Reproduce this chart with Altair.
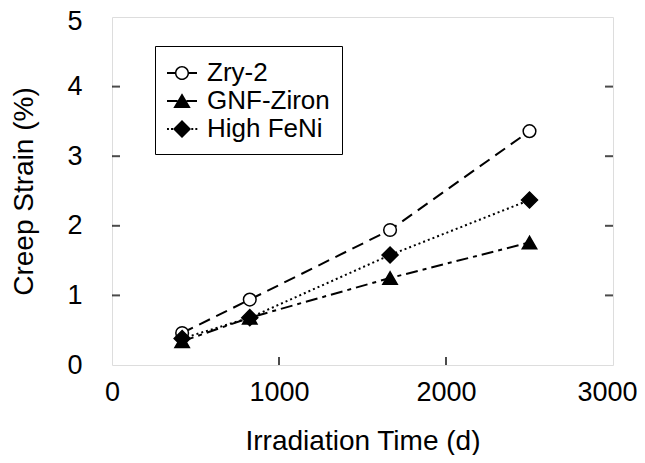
import altair as alt
import pandas as pd

series_names = ["Zry-2", "GNF-Ziron", "High FeNi"]
time_d = [420, 825, 1665, 2500]
zry2 = [0.46, 0.94, 1.94, 3.36]
gnf_ziron = [0.34, 0.68, 1.25, 1.76]
high_feni = [0.38, 0.68, 1.58, 2.37]

x_tick_values = [0, 1000, 2000, 3000]
y_tick_values = [0, 1, 2, 3, 4, 5]
x_inner_ticks = [1000, 2000]
y_inner_ticks = [1, 2, 3, 4]

rows = []
for name, vals in zip(series_names, [zry2, gnf_ziron, high_feni]):
    for t, v in zip(time_d, vals):
        rows.append({"series": name, "key": name, "time": t, "strain": v})
df = pd.DataFrame(rows)

FONT = "Liberation Sans"
W, H = 501, 348

xscale = alt.Scale(domain=[0, 3000], nice=False, zero=False)
yscale = alt.Scale(domain=[0, 5], nice=False, zero=False)

x_axis = alt.Axis(values=x_tick_values, format="d", ticks=False, domain=False, grid=False,
                  labelFontSize=27, labelFont=FONT, labelColor="black", labelPadding=14,
                  labelOffset={"condition": {"test": "datum.value == 3000", "value": -6}, "value": 0},
                  title="Irradiation Time (d)", titleFontSize=28, titleFont=FONT,
                  titleFontWeight="normal", titleColor="black",
                  titleX=W / 2, titleY=84, titleBaseline="alphabetic", labelFlush=False)
y_axis = alt.Axis(values=y_tick_values, format="d", ticks=False, domain=False, grid=False,
                  labelFontSize=27, labelFont=FONT, labelColor="black", labelPadding=30,
                  labelOffset={"condition": {"test": "datum.value == 5", "value": 4}, "value": 0},
                  title="Creep Strain (%)", titleFontSize=28, titleFont=FONT,
                  titleFontWeight="normal", titleColor="black",
                  titleX=-80, titleY=H / 2, titleBaseline="alphabetic", labelFlush=False)

dash_range = [[12, 7], [12, 5, 4, 5], [2, 3]]
shape_range = ["circle", "triangle-up", "diamond"]
fill_range = ["white", "black", "black"]

base = alt.Chart(df)

lines = base.mark_line(color="black", strokeWidth=2).encode(
    x=alt.X("time:Q", scale=xscale, axis=x_axis),
    y=alt.Y("strain:Q", scale=yscale, axis=y_axis),
    strokeDash=alt.StrokeDash("series:N", scale=alt.Scale(domain=series_names, range=dash_range), legend=None),
    detail="series:N",
)

points = base.mark_point(filled=True, stroke="black", strokeWidth=1.5, opacity=1).encode(
    x=alt.X("time:Q", scale=xscale),
    y=alt.Y("strain:Q", scale=yscale),
    shape=alt.Shape("series:N", scale=alt.Scale(domain=series_names, range=shape_range), legend=None),
    fill=alt.Fill("series:N", scale=alt.Scale(domain=series_names, range=fill_range), legend=None),
    size=alt.Size("series:N", scale=alt.Scale(domain=series_names, range=[160, 256, 256]), legend=None),
)


# legend-only symbols (all filled geometry): line segment + marker, unit = 15 px
def seg(a, b, h=0.06):
    return "M%.3f,%.3fH%.3fV%.3fH%.3fZ" % (a, -h, b, h, a)


p_circle = (seg(-1, -0.44) + seg(0.44, 1)
            + "M-0.47,0A0.47,0.47,0,1,1,0.47,0A0.47,0.47,0,1,1,-0.47,0Z"
            + "M-0.37,0A0.37,0.37,0,1,0,0.37,0A0.37,0.37,0,1,0,-0.37,0Z")
p_tri = seg(-1, -0.3) + seg(0.3, 1) + "M0,-0.52L0.58,0.47L-0.58,0.47Z"
dots = "".join(seg(-1 + i * 0.27, -1 + i * 0.27 + 0.13) for i in range(2)) + \
       "".join(seg(0.62 + i * 0.27, 0.62 + i * 0.27 + 0.13) for i in range(2))
p_dia = dots + "M0,-0.6L0.6,0L0,0.6L-0.6,0Z"

legend = alt.Legend(
    orient="none", legendX=43, legendY=29, padding=12,
    strokeColor="black", fillColor="white", labelFont=FONT, labelFontSize=26,
    labelColor="black", labelOffset=10, rowPadding=0, symbolSize=900,
    symbolStrokeWidth=0, symbolFillColor="black",
)

legend_layer = base.transform_filter("false").mark_point(
    filled=True, fill="black", size=900, opacity=1
).encode(
    x=alt.X("time:Q", scale=xscale),
    y=alt.Y("strain:Q", scale=yscale),
    shape=alt.Shape("key:N", title="", scale=alt.Scale(domain=series_names, range=[p_circle, p_tri, p_dia]), legend=legend),
)

ytick_df = pd.DataFrame({"y": y_inner_ticks})
xtick_df = pd.DataFrame({"x": x_inner_ticks})

left_ticks = alt.Chart(ytick_df).mark_point(shape="M0,0H1", size=256, filled=False, stroke="black", strokeWidth=2).encode(
    x=alt.datum(0, scale=xscale), y=alt.Y("y:Q", scale=yscale))
right_ticks = alt.Chart(ytick_df).mark_point(shape="M0,0H-1", size=256, filled=False, stroke="black", strokeWidth=2).encode(
    x=alt.datum(3000, scale=xscale), y=alt.Y("y:Q", scale=yscale))
bottom_ticks = alt.Chart(xtick_df).mark_point(shape="M0,0V-1", size=256, filled=False, stroke="black", strokeWidth=2).encode(
    x=alt.X("x:Q", scale=xscale), y=alt.datum(0, scale=yscale))

chart = alt.layer(lines, points, legend_layer, left_ticks, right_ticks, bottom_ticks).resolve_scale(
    shape="independent"
).properties(
    width=W, height=H,
    autosize=alt.AutoSizeParams(type="none"),
    padding={"left": 104, "top": 9, "right": 24, "bottom": 90},
).configure_view(stroke="black", strokeWidth=2).configure(background="white")

chart.save("out.html", embed_options={"renderer": "svg", "actions": False})
